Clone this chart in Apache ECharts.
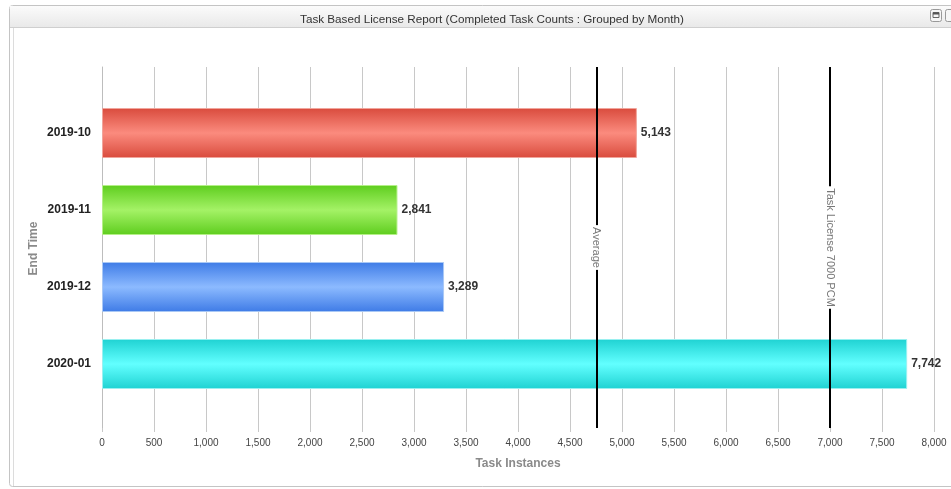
<!DOCTYPE html>
<html>
<head>
<meta charset="utf-8">
<script src="https://cdn.jsdelivr.net/npm/echarts@6/dist/echarts.min.js"></script>
<style>
html,body{margin:0;padding:0;background:#fff;}
#c{width:951px;height:489px;}
</style>
</head>
<body>
<div id="c"></div>
<script>
const titleText = 'Task Based License Report (Completed Task Counts : Grouped by Month)';
const categories = ['2019-10', '2019-11', '2019-12', '2020-01'];
const values = [5143, 2841, 3289, 7742];
const licenseLimit = 7000;
const xTicks = [0, 500, 1000, 1500, 2000, 2500, 3000, 3500, 4000, 4500, 5000, 5500, 6000, 6500, 7000, 7500, 8000];
const barEdge = ['#d94b3d', '#5ecd1e', '#3e7be6', '#1fd2d2'];
const barMid = ['#fb8b7e', '#a4f266', '#8cbaff', '#62ffff'];
const barBorder = ['#f0a59c', '#b4ef88', '#a9c8f5', '#9af0f0'];

const average = values.reduce((a, b) => a + b, 0) / values.length;
const fmt = v => Number(v).toLocaleString('en-US');
const font = '"Liberation Sans", Arial, sans-serif';

const chart = echarts.init(document.getElementById('c'), null, {renderer: 'canvas'});

const barData = values.map((v, i) => ({
  value: v,
  itemStyle: {
    color: new echarts.graphic.LinearGradient(0, 0, 0, 1, [
      {offset: 0, color: barEdge[i]},
      {offset: 0.5, color: barMid[i]},
      {offset: 1, color: barEdge[i]}
    ]),
    borderColor: barBorder[i],
    borderWidth: 1
  }
}));

const lineLabel = text => ({
  show: true,
  position: 'middle',
  formatter: text,
  color: '#777',
  fontSize: 11,
  fontFamily: font,
  backgroundColor: '#fff',
  padding: [0, 2, 0, 2],
  distance: 0,
  align: 'center',
  verticalAlign: 'middle'
});

chart.setOption({
  animation: false,
  title: {
    text: titleText,
    left: 487,
    top: 9,
    textAlign: 'center',
    textStyle: {fontSize: 11.7, fontWeight: 'normal', color: '#333', fontFamily: font}
  },
  graphic: [
    {type: 'rect', z: -10, shape: {x: 9.5, y: 5.5, width: 960, height: 481, r: 3},
     style: {fill: '#fff', stroke: '#c4c4c4', lineWidth: 1}},
    {type: 'rect', z: -9, shape: {x: 10, y: 6, width: 960, height: 21},
     style: {fill: new echarts.graphic.LinearGradient(0, 0, 0, 1, [
       {offset: 0, color: '#fbfbfb'}, {offset: 1, color: '#e9e9e9'}]), stroke: null}},
    {type: 'line', z: -8, shape: {x1: 10, y1: 27.5, x2: 960, y2: 27.5},
     style: {stroke: '#cfcfcf', lineWidth: 1}},
    {type: 'line', z: -8, shape: {x1: 13.5, y1: 28, x2: 13.5, y2: 486},
     style: {stroke: '#dcdcdc', lineWidth: 1}},
    {type: 'rect', z: -7, shape: {x: 930.5, y: 9.5, width: 11, height: 12, r: 2},
     style: {fill: '#f6f6f6', stroke: '#999', lineWidth: 1}},
    {type: 'rect', z: -6, shape: {x: 933, y: 12.5, width: 6, height: 5},
     style: {fill: null, stroke: '#666', lineWidth: 1}},
    {type: 'line', z: -6, shape: {x1: 933, y1: 13.5, x2: 939, y2: 13.5},
     style: {stroke: '#555', lineWidth: 2}},
    {type: 'rect', z: -7, shape: {x: 945.5, y: 9.5, width: 11, height: 12, r: 2},
     style: {fill: '#f6f6f6', stroke: '#999', lineWidth: 1}}
  ],
  grid: [
    {left: 102, right: 17, top: 94.5, bottom: 86.5, containLabel: false},
    {left: 102, right: 17, top: 67, bottom: 61, containLabel: false}
  ],
  xAxis: [
    {gridIndex: 0, type: 'value', min: 0, max: 8000, show: false},
    {
      gridIndex: 1, type: 'value', min: 0, max: 8000, interval: 500,
      name: 'Task Instances', nameLocation: 'middle', nameGap: 30,
      nameTextStyle: {fontSize: 12, fontWeight: 'bold', color: '#8a8a8a', fontFamily: font},
      axisLine: {show: false},
      axisTick: {show: true, length: 4, lineStyle: {color: '#c8c8c8'}},
      axisLabel: {fontSize: 10, color: '#444', margin: 10, fontFamily: font,
        formatter: v => xTicks.includes(v) ? fmt(v) : ''},
      splitLine: {show: true, lineStyle: {color: '#c8c8c8', width: 1}}
    }
  ],
  yAxis: [
    {
      gridIndex: 0, type: 'category', data: categories, inverse: true,
      name: 'End Time', nameLocation: 'middle', nameGap: 62, nameRotate: 90,
      nameMoveOverlap: false,
      nameTextStyle: {fontSize: 12, fontWeight: 'bold', color: '#8a8a8a', fontFamily: font},
      axisLine: {show: false}, axisTick: {show: false},
      axisLabel: {fontSize: 12, fontWeight: 'bold', color: '#222', margin: 11, fontFamily: font},
      splitLine: {show: false}
    },
    {
      gridIndex: 1, type: 'value', min: 0, max: 1,
      axisLine: {show: true, lineStyle: {color: '#bdbdbd', width: 1}},
      axisTick: {show: false}, axisLabel: {show: false}, splitLine: {show: false}
    }
  ],
  series: [
    {
      type: 'bar', xAxisIndex: 0, yAxisIndex: 0, data: barData, barWidth: 50, z: 3,
      label: {show: true, position: 'right', distance: 4, formatter: p => fmt(p.value),
        fontSize: 12, fontWeight: 'bold', color: '#333', fontFamily: font}
    },
    {
      type: 'line', xAxisIndex: 1, yAxisIndex: 1, data: [[0, 0]], symbol: 'none',
      lineStyle: {opacity: 0}, silent: true, z: 5,
      markLine: {
        silent: true, symbol: ['none', 'none'],
        lineStyle: {color: '#000', width: 2, type: 'solid'},
        data: [
          [{coord: [average, 1], label: lineLabel('Average')}, {coord: [average, 0]}],
          [{coord: [licenseLimit, 1], label: lineLabel('Task License 7000 PCM')}, {coord: [licenseLimit, 0]}]
        ]
      }
    }
  ]
});
</script>
</body>
</html>
